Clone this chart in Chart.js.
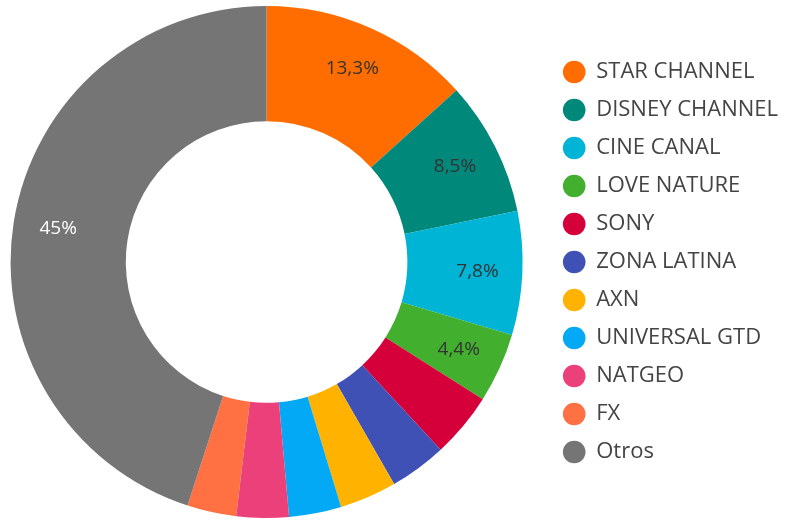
<!DOCTYPE html>
<html>
<head>
<meta charset="utf-8">
<script src="https://cdn.jsdelivr.net/npm/chart.js@4/dist/chart.umd.min.js"></script>
<style>
  body { margin: 0; background: #fff; overflow: hidden; }
  #wrap { width: 793px; height: 520px; overflow: hidden; }
  #myChart { margin-left: -14px; display: block; }
</style>
</head>
<body>
<div id="wrap"><canvas id="myChart" width="802" height="520"></canvas></div>
<script>
// canales y porcentaje de audiencia
const canales = ['STAR CHANNEL', 'DISNEY CHANNEL', 'CINE CANAL', 'LOVE NATURE', 'SONY',
  'ZONA LATINA', 'AXN', 'UNIVERSAL GTD', 'NATGEO', 'FX', 'Otros'];
const porcentajes = [13.3, 8.5, 7.8, 4.4, 4.1, 3.6, 3.6, 3.3, 3.3, 3.1, 45];
const colores = ['#FF6D00', '#00897B', '#00B4D6', '#43AF2F', '#D5003A',
  '#3F51B5', '#FFB300', '#03A9F4', '#EC407A', '#FF7043', '#757575'];
// etiquetas que se ven dentro del anillo
const etiquetas = ['13,3%', '8,5%', '7,8%', '4,4%', '', '', '', '', '', '', '45%'];
const colorEtiqueta = ['#333', '#333', '#333', '#333', '', '', '', '', '', '', '#fff'];

const FUENTE = "'Open Sans', 'Noto Sans', sans-serif";

const etiquetasPlugin = {
  id: 'etiquetas',
  afterDatasetsDraw(chart) {
    const ctx = chart.ctx;
    const meta = chart.getDatasetMeta(0);
    ctx.save();
    ctx.font = '19px ' + FUENTE;
    ctx.textAlign = 'center';
    ctx.textBaseline = 'middle';
    meta.data.forEach((arc, i) => {
      if (!etiquetas[i]) return;
      const p = arc.getProps(['x', 'y', 'startAngle', 'endAngle', 'innerRadius', 'outerRadius'], true);
      const a = (p.startAngle + p.endAngle) / 2;
      const r = p.innerRadius + 0.61 * (p.outerRadius - p.innerRadius);
      ctx.fillStyle = colorEtiqueta[i];
      ctx.fillText(etiquetas[i], p.x + Math.cos(a) * r, p.y + Math.sin(a) * r);
    });
    ctx.restore();
  }
};

const ctx = document.getElementById('myChart').getContext('2d');
const myChart = new Chart(ctx, {
  type: 'doughnut',
  data: {
    labels: canales,
    datasets: [{
      data: porcentajes,
      backgroundColor: colores,
      borderWidth: 0,
      hoverOffset: 0
    }]
  },
  options: {
    responsive: false,
    animation: false,
    cutout: '55%',
    layout: { padding: { top: 6, bottom: 2, left: 0, right: 0 } },
    plugins: {
      tooltip: { enabled: false },
      legend: {
        position: 'right',
        labels: {
          usePointStyle: true,
          pointStyle: 'circle',
          boxWidth: 23,
          boxHeight: 16,
          padding: 16,
          color: '#444',
          font: { family: FUENTE, size: 22 }
        }
      }
    }
  },
  plugins: [etiquetasPlugin]
});
</script>
</body>
</html>
